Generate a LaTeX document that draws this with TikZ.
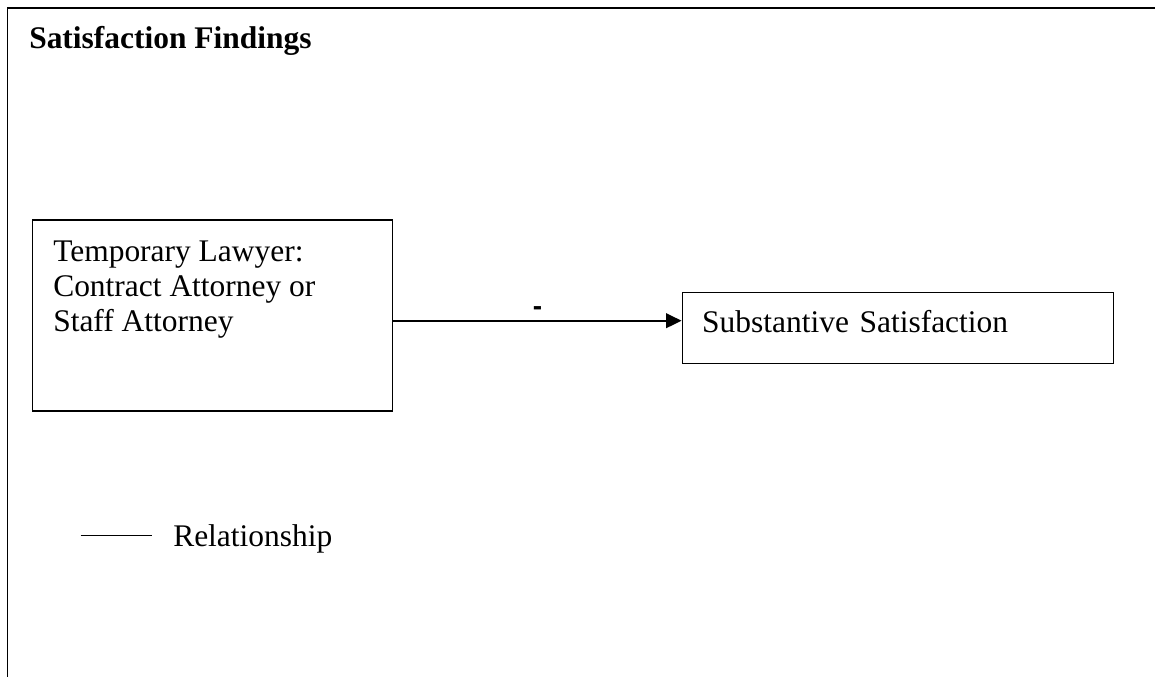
\documentclass[tikz,border=0pt]{standalone}
\usepackage{fontspec}
\setmainfont{Liberation Serif}
\newfontfamily\signfont{Liberation Sans}
\usetikzlibrary{arrows.meta}

\tikzset{
  txt/.style={inner sep=0pt, font=\fontsize{23.6}{25.9}\selectfont},
  boxnode/.style={draw, line width=1.1pt, inner sep=0pt},
  rel/.style={line width=1.3pt, -{Triangle[length=11.5pt,width=11pt]}},
}

\begin{document}
\begin{tikzpicture}[x=0.75pt,y=0.75pt,yscale=-1,xscale=1]
  \useasboundingbox (0,0) rectangle (1155,677);

  %Frame: only the top and left edges
  \draw [line width=1.2pt] (7.3,677) -- (7.3,8.3) -- (1155,8.3) ;

  % Text Node
  \node [txt, anchor=base west, font=\fontsize{23.6}{25.9}\selectfont\bfseries] (title) at (29,49) {Satisfaction Findings};

  %Shape: Rectangle
  \node [boxnode, minimum width=270pt, minimum height=143.25pt] (temp) at (212.6,315.5) {};
  % Text Node
  \node [txt, anchor=north west, align=left] (templbl) at (53,241.1) {Temporary Lawyer:\\Contract Attorney or\\Staff Attorney};

  %Shape: Rectangle
  \node [boxnode, txt, anchor=north west, minimum width=323.6pt, minimum height=53.25pt,
         text width=293.6pt, inner xsep=15pt, align=left, text height=16pt, text depth=9pt] (sub) at (681.5,292) {Substantive Satisfaction};

  %Straight Lines
  \coordinate (from) at ([yshift=3.9pt]temp.east);
  \draw [rel] (from) -- (from -| sub.west) node [midway, yshift=7.5pt, txt, font=\fontsize{21}{24}\selectfont\signfont\bfseries] (sign) {-};

  %Legend
  \coordinate (keyL) at (80.7,535.7);
  \coordinate (keyR) at (151.7,535.7);
  \draw [line width=0.9pt] (keyL) -- (keyR) ;
  % Text Node
  \node [txt, anchor=base west] (keylbl) at (173,546.7) {Relationship};
\end{tikzpicture}
\end{document}
